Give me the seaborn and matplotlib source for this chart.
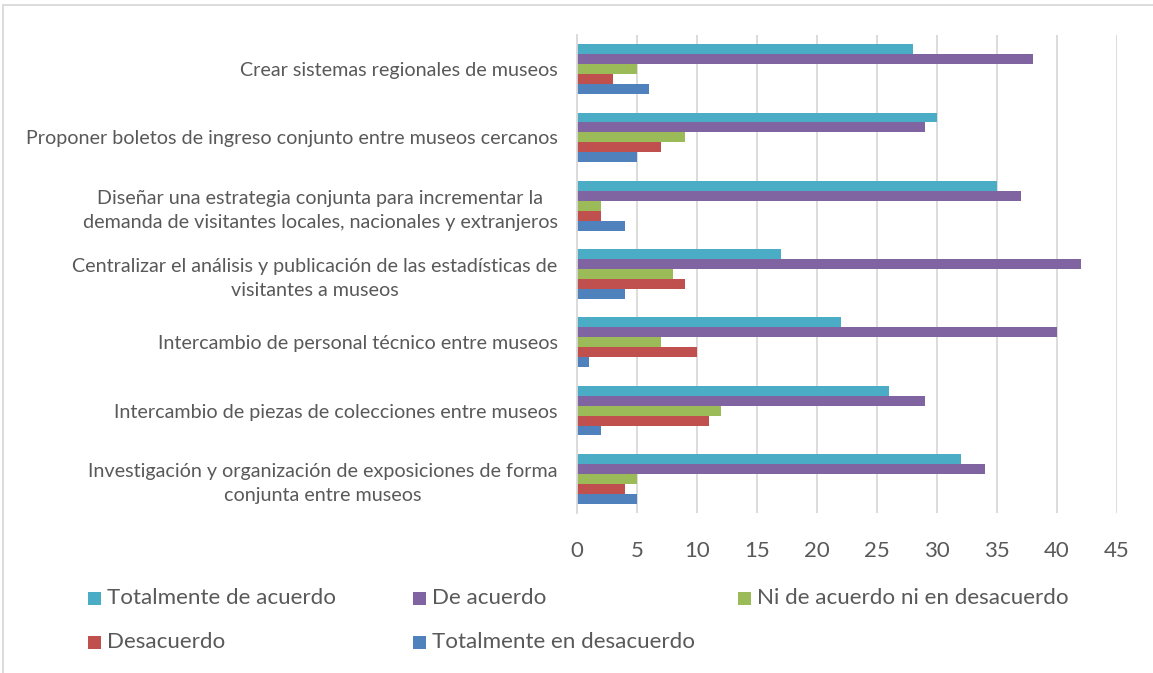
import numpy as np
import pandas as pd
import matplotlib
matplotlib.use("Agg")
import matplotlib.pyplot as plt
from matplotlib.patches import Rectangle
import seaborn as sns

categories = [
    "Crear sistemas regionales de museos",
    "Proponer boletos de ingreso conjunto entre museos cercanos",
    "Diseñar una estrategia conjunta para incrementar la\ndemanda de visitantes locales, nacionales y extranjeros",
    "Centralizar el análisis y publicación de las estadísticas de\nvisitantes a museos",
    "Intercambio de personal técnico entre museos",
    "Intercambio de piezas de colecciones entre museos",
    "Investigación y organización de exposiciones de forma\nconjunta entre museos",
]
series = [
    "Totalmente de acuerdo",
    "De acuerdo",
    "Ni de acuerdo ni en desacuerdo",
    "Desacuerdo",
    "Totalmente en desacuerdo",
]
totalmente_de_acuerdo = [28, 30, 35, 17, 22, 26, 32]
de_acuerdo = [38, 29, 37, 42, 40, 29, 34]
ni_ni = [5, 9, 2, 8, 7, 12, 5]
desacuerdo = [3, 7, 2, 9, 10, 11, 4]
totalmente_en_desacuerdo = [6, 5, 4, 4, 1, 2, 5]
colors = ["#4BACC6", "#8064A2", "#9BBB59", "#C0504D", "#4F81BD"]
x_ticks = [0, 5, 10, 15, 20, 25, 30, 35, 40, 45]

values = [totalmente_de_acuerdo, de_acuerdo, ni_ni, desacuerdo, totalmente_en_desacuerdo]
rows = []
for s, vals in zip(series, values):
    for c, v in zip(categories, vals):
        rows.append({"cat": c, "serie": s, "val": v})
df = pd.DataFrame(rows)

sns.set_theme(style="white")
plt.rcParams["font.family"] = ["Lato", "DejaVu Sans"]
text_color = "#595959"

W, H = 1153, 673
fig = plt.figure(figsize=(W / 100, H / 100), dpi=100)
ax = fig.add_axes([577 / W, 1 - 513 / H, 540 / W, 478 / H])

sns.barplot(data=df, y="cat", x="val", hue="serie", order=categories,
            hue_order=series, palette=colors, orient="h", width=0.73,
            saturation=1, legend=False, ax=ax, linewidth=0)

ax.set_xlim(0, 45)
ax.set_ylim(6.5, -0.5)
ax.set_xticks(x_ticks)
ax.set_xticklabels([str(t) for t in x_ticks], fontsize=16, color=text_color)
ax.tick_params(axis="x", length=0, pad=20)
ax.tick_params(axis="y", length=0, pad=14)
for lbl in ax.get_yticklabels():
    lbl.set_fontsize(14.25)
    lbl.set_color(text_color)
    lbl.set_multialignment("center")
    lbl.set_linespacing(1.5)
ax.set_xlabel("")
ax.set_ylabel("")
ax.grid(axis="x", color="#D9D9D9", linewidth=1.3)
ax.set_axisbelow(True)
for side in ["top", "right", "bottom"]:
    ax.spines[side].set_visible(False)
ax.spines["left"].set_color("#D9D9D9")
ax.spines["left"].set_linewidth(1.3)

# legend (manually placed entries)
leg_pos = [(88, 598), (413, 598), (738, 598), (88, 642), (413, 642)]
for (px, py), s, col in zip(leg_pos, series, colors):
    sz = 13
    fig.add_artist(Rectangle((px / W, 1 - (py + sz / 2) / H), sz / W, sz / H,
                             transform=fig.transFigure, color=col, lw=0))
    fig.text((px + 19) / W, 1 - py / H, s, fontsize=16.1, color=text_color,
             va="center", ha="left")

# outer chart frame
fig.add_artist(Rectangle((3 / W, -0.1), 1.2, 1 - 5 / H + 0.1, fill=False,
                         ec="#D9D9D9", lw=1.3, transform=fig.transFigure))

fig.savefig("out.png", dpi=100)
